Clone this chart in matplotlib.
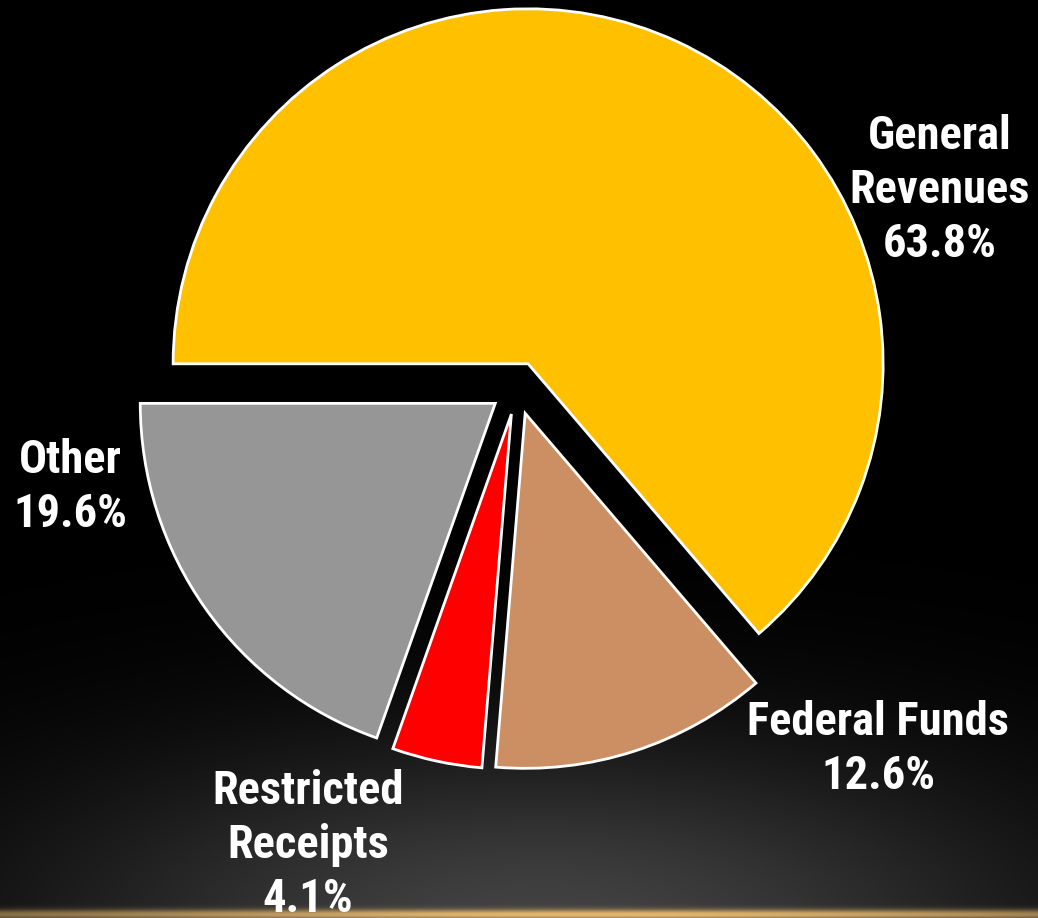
import numpy as np
import matplotlib.pyplot as plt
from matplotlib import font_manager

# prefer a narrow face for the labels when one is installed
installed = {f.name for f in font_manager.fontManager.ttflist}
narrow = [n for n in ['Liberation Sans Narrow', 'Arial Narrow', 'DejaVu Sans Condensed',
                      'Roboto Condensed'] if n in installed]
plt.rcParams['font.family'] = narrow + ['Liberation Sans', 'DejaVu Sans']

# revenue sources (percent of total)
labels = ['General\nRevenues', 'Federal Funds', 'Restricted\nReceipts', 'Other']
shares = [63.8, 12.6, 4.1, 19.6]
colors = ['#FFC000', '#CC8F63', '#FF0000', '#969696']

W, H = 1038, 918
fig = plt.figure(figsize=(W / 100, H / 100), dpi=100)
fig.patch.set_facecolor('black')

# background: black with a soft glow and a golden rim at the bottom
bg = fig.add_axes([0, 0, 1, 1])
bg.set_axis_off()
yy, xx = np.mgrid[0:H, 0:W]
glow = np.exp(-(((xx - 540) / 520.0) ** 2 + ((yy - 930) / 190.0) ** 2))
img = np.zeros((H, W, 3))
img[...] = 0.26 * glow[..., None]
rim = np.exp(-((yy - 914) / 5.0) ** 2) * (0.45 + 0.55 * np.exp(-((xx - 600) / 450.0) ** 2))
gold = np.array([0.90, 0.72, 0.42])
img = np.clip(img * (1 - rim[..., None]) + rim[..., None] * gold, 0, 1)
bg.imshow(img, extent=[0, W, H, 0], aspect='auto')
bg.set_xlim(0, W)
bg.set_ylim(H, 0)

# pie axes in units of the pie radius (355 px)
cx, cy, r = 517, 388, 355
ax = fig.add_axes([0, 0, 1, 1])
ax.set_axis_off()
ax.patch.set_alpha(0)
ax.pie(shares, colors=colors, startangle=180, counterclock=False,
       explode=[0.075] * len(shares),
       wedgeprops=dict(edgecolor='white', linewidth=2))
ax.set_xlim(-cx / r, (W - cx) / r)
ax.set_ylim(-(H - cy) / r, cy / r)


def px(x, y):
    return (x - cx) / r, (cy - y) / r


label_pos = [(940, 190), (878, 749), (308, 845), (70, 487)]
for lab, val, (x, y) in zip(labels, shares, label_pos):
    tx, ty = px(x, y)
    ax.text(tx, ty, f'{lab}\n{val}%', color='white', fontsize=33.5, fontweight='bold',
            ha='center', va='center', linespacing=1.28)

fig.savefig('out.png', dpi=100, facecolor='black')
